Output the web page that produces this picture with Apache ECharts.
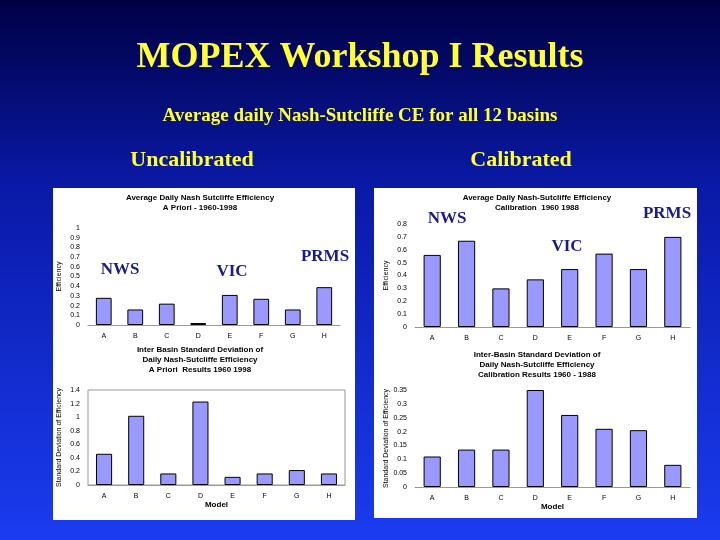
<!DOCTYPE html><html><head><meta charset="utf-8"><script src="https://cdn.jsdelivr.net/npm/echarts@6/dist/echarts.min.js"></script>
<style>html,body{margin:0;padding:0}#c{width:720px;height:540px}</style></head><body><div id="c"></div><script>
const models=['A','B','C','D','E','F','G','H'];
const uncalEff=[0.28,0.16,0.22,0.02,0.31,0.27,0.16,0.39];
const calEff=[0.56,0.67,0.30,0.37,0.45,0.57,0.45,0.70];
const uncalSd=[0.46,1.02,0.17,1.23,0.12,0.17,0.22,0.17];
const calSd=[0.11,0.135,0.135,0.35,0.26,0.21,0.205,0.08];
const c=echarts.init(document.getElementById('c'));
const small={fontSize:7,color:'#000',fontFamily:'Liberation Sans'};
const serif='Liberation Serif';
function txt(x,y,t,s,col,extra){return Object.assign({type:'text',x:x,y:y,style:{text:t,fontSize:s,fill:col,fontFamily:serif,fontWeight:'bold',textAlign:'center',textVerticalAlign:'middle'}},extra||{});}
function st(x,y,t){return {type:'text',x:x,y:y,style:{text:t,fontSize:8,fill:'#000',fontFamily:'Liberation Sans',fontWeight:'bold',textAlign:'center',lineHeight:10}};}
const grids=[{left:88,top:228,width:252,height:97},{left:415,top:224,width:275,height:103},{left:88,top:390,width:257,height:95,show:true,borderColor:'#999',borderWidth:1},{left:415,top:390,width:275,height:97}];
function xa(i,name){return {type:'category',gridIndex:i,data:models,axisTick:{show:false},axisLine:{lineStyle:{color:'#999'}},axisLabel:small,name:name||'',nameLocation:'middle',nameGap:14,nameTextStyle:{fontSize:8,fontWeight:'bold',color:'#000'}};}
function ya(i,max,iv,name){return {type:'value',gridIndex:i,min:0,max:max,interval:iv,splitLine:{show:false},axisLine:{show:false},axisTick:{show:false},axisLabel:Object.assign({},small,{formatter:v=>String(+v.toFixed(2))}),name:name,nameLocation:'middle',nameGap:25,nameTextStyle:{fontSize:7,color:'#000'}};}
function s(i,d){return {type:'bar',xAxisIndex:i,yAxisIndex:i,data:d,barWidth:'50%',itemStyle:{color:'#9999ff',borderColor:'#000',borderWidth:1}};}
c.setOption({
 backgroundColor:{type:'linear',x:0,y:0,x2:0,y2:1,colorStops:[{offset:0,color:'#000044'},{offset:0.35,color:'#0a1aa8'},{offset:1,color:'#1a3cf0'}]},
 grid:grids,
 xAxis:[xa(0),xa(1),xa(2,'Model'),xa(3,'Model')],
 yAxis:[ya(0,1,0.1,'Efficiency'),ya(1,0.8,0.1,'Efficiency'),ya(2,1.4,0.2,'Standard Deviation of Efficiency'),ya(3,0.35,0.05,'Standard Deviation of Efficiency')],
 series:[s(0,uncalEff),s(1,calEff),s(2,uncalSd),s(3,calSd)],
 graphic:[
  {type:'rect',z:-10,shape:{x:53,y:188,width:302,height:332},style:{fill:'#fff'}},
  {type:'rect',z:-10,shape:{x:374,y:188,width:323,height:330},style:{fill:'#fff'}},
  txt(360,58,'MOPEX Workshop I Results',36,'#ffff33'),
  txt(360,116,'Average daily Nash-Sutcliffe CE for all 12 basins',19,'#ffff33'),
  txt(192,160,'Uncalibrated',22,'#ffff33'),
  txt(521,160,'Calibrated',22,'#ffff33'),
  st(200,193,'Average Daily Nash Sutcliffe Efficiency\nA Priori - 1960-1998'),
  st(537,193,'Average Daily Nash-Sutcliffe Efficiency\nCalibration  1960 1988'),
  st(200,345,'Inter Basin Standard Deviation of\nDaily Nash-Sutcliffe Efficiency\nA Priori  Results 1960 1998'),
  st(537,350,'Inter-Basin Standard Deviation of\nDaily Nash-Sutcliffe Efficiency\nCalibration Results 1960 - 1988'),
  txt(120,270,'NWS',17,'#1a1a8a'),txt(232,272,'VIC',17,'#1a1a8a'),txt(325,257,'PRMS',17,'#1a1a8a'),
  txt(447,219,'NWS',17,'#1a1a8a'),txt(567,247,'VIC',17,'#1a1a8a'),txt(667,214,'PRMS',17,'#1a1a8a')
 ]
});
</script></body></html>
